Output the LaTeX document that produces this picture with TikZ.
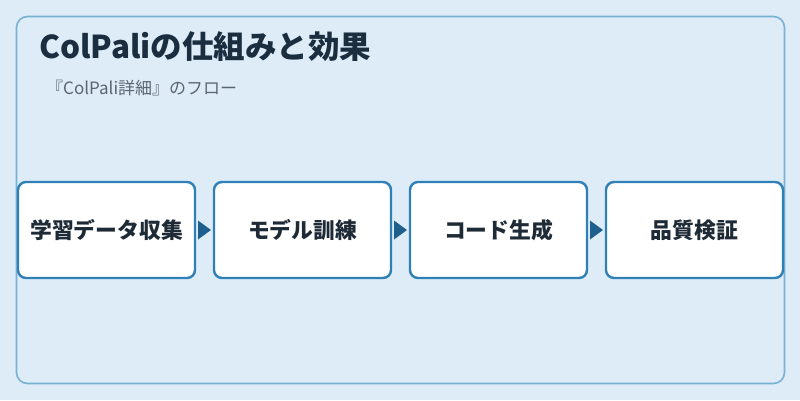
\documentclass[tikz,border=0pt]{standalone}
\usepackage{fontspec}
\setmainfont{Noto Sans CJK JP}
\usetikzlibrary{arrows.meta}
\definecolor{bgc}{HTML}{DDECF7}
\definecolor{framec}{HTML}{78B1D3}
\definecolor{boxc}{HTML}{2E80B6}
\definecolor{arrc}{HTML}{1F5F8E}
\definecolor{titlec}{HTML}{1A2E40}
\definecolor{subc}{HTML}{5A6670}
\definecolor{textc}{HTML}{1E2B36}
\begin{document}
\begin{tikzpicture}[x=1pt,y=-1pt,
  stepbox/.style={draw=boxc, line width=2.4pt, fill=white, rounded corners=8pt,
    minimum width=177pt, minimum height=96pt, inner sep=0pt,
    font=\fontsize{21.8}{26}\selectfont\bfseries, text=textc},
  flow/.style={draw=none, fill=arrc}]
\useasboundingbox (0,0) rectangle (800,400);
\fill[bgc] (0,0) rectangle (800,400);
\draw[framec, line width=1.6pt, rounded corners=11pt] (16.5,16.5) rectangle (784.5,383.5);
\node[anchor=base west, text=titlec, font=\fontsize{31.5}{36}\selectfont\bfseries, inner sep=0pt] (title) at (39,58) {ColPaliの仕組みと効果};
\node[anchor=base west, text=subc, font=\fontsize{17}{20}\selectfont, inner sep=0pt] (sub) at (46,94) {『ColPali詳細』のフロー};
\node[stepbox] (s1) at (106.5,230) {学習データ収集};
\node[stepbox] (s2) at (302.5,230) {モデル訓練};
\node[stepbox] (s3) at (498.5,230) {コード生成};
\node[stepbox] (s4) at (694.5,230) {品質検証};
\foreach \a/\b in {s1/s2,s2/s3,s3/s4}{
  \path (\a.east) -- (\b.west) coordinate[pos=0.5] (m\a);
  \fill[flow] ([xshift=-6.5pt,yshift=-9.5pt]m\a) -- ([xshift=6.5pt]m\a) -- ([xshift=-6.5pt,yshift=9.5pt]m\a) -- cycle;
}
\end{tikzpicture}
\end{document}
